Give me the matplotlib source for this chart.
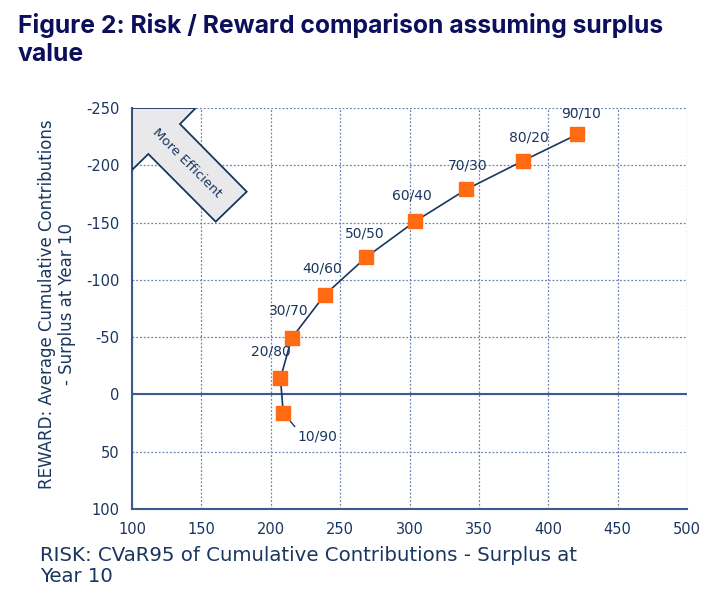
import matplotlib
matplotlib.use('Agg')
from matplotlib import pyplot as plt
from matplotlib.patches import Polygon

plt.rcParams['axes.unicode_minus'] = False

# 数据: 股票/债券配置
mixes = ['10/90', '20/80', '30/70', '40/60', '50/50', '60/40', '70/30', '80/20', '90/10']
risk = [209, 207, 215, 239, 269, 304, 341, 382, 421]
reward = [16, -14, -49, -87, -120, -151, -179, -204, -227]

x_ticks = [100, 150, 200, 250, 300, 350, 400, 450, 500]
y_ticks = [-250, -200, -150, -100, -50, 0, 50, 100]

# 标签偏移(points)
label_offsets = {'10/90': (10, -17), '20/80': (-7, 19), '30/70': (-2, 20), '40/60': (-2, 19),
                 '50/50': (-1, 17), '60/40': (-2, 19), '70/30': (1, 17), '80/20': (4, 17),
                 '90/10': (3, 15)}

navy = '#1a365f'
grid_c = '#6a84ad'
orange = '#ff6a13'

fig = plt.figure(figsize=(7.23, 5.99), dpi=100)
ax = fig.add_axes([132/723, 90/599, 555/723, 401/599])

ax.set_xlim(100, 500)
ax.set_ylim(100, -250)
ax.set_xticks(x_ticks)
ax.set_yticks(y_ticks)
ax.tick_params(length=0, labelsize=10.5, labelcolor=navy)
ax.tick_params(axis='y', pad=9)
ax.tick_params(axis='x', pad=9)

ax.grid(True, linestyle=(0, (1.5, 1.5)), color=grid_c, linewidth=0.9)
ax.set_axisbelow(True)
for s in ['top', 'right']:
    ax.spines[s].set_visible(False)
for s in ['left', 'bottom']:
    ax.spines[s].set_color('#3c5a8c')
    ax.spines[s].set_linewidth(1.5)
ax.axhline(0, color='#3c5a8c', linewidth=1.5, zorder=2)

# 箭头 "More Efficient"
arrow_pts = [(0, 1), (0.1148, 1), (0.0865, 0.960), (0.2067, 0.7913),
             (0.1508, 0.7165), (0.0294, 0.8853), (0, 0.8454)]
ax.add_patch(Polygon(arrow_pts, closed=True, transform=ax.transAxes,
                     facecolor='#e9e9eb', edgecolor=navy, linewidth=1.3, zorder=3))
ax.text(0.099, 0.863, 'More Efficient', transform=ax.transAxes, rotation=-45,
        ha='center', va='center', fontsize=9.5, color=navy, zorder=4)

ax.plot(risk, reward, color=navy, linewidth=1.2, zorder=4)
ax.plot(risk, reward, linestyle='none', marker='s', markersize=10.5,
        color=orange, markeredgecolor=orange, zorder=5)

for m, x, y in zip(mixes, risk, reward):
    dx, dy = label_offsets[m]
    if m == '10/90':
        ax.annotate(m, (x, y), xytext=(dx, dy), textcoords='offset points',
                    ha='left', va='center', fontsize=10, color=navy,
                    arrowprops=dict(arrowstyle='-', color=navy, lw=1,
                                    relpos=(0, 1), shrinkA=0, shrinkB=0), zorder=4)
    else:
        ax.annotate(m, (x, y), xytext=(dx, dy), textcoords='offset points',
                    ha='center', va='center', fontsize=10, color=navy, zorder=6)

fig.text(18/723, 1 - 13/599, 'Figure 2: Risk / Reward comparison assuming surplus\nvalue',
         ha='left', va='top', fontsize=17.8, fontweight='bold', color='#0b0f5c',
         family='Inter', linespacing=1.3)

fig.text(57/723, 1 - 304/599, 'REWARD: Average Cumulative Contributions\n- Surplus at Year 10',
         rotation=90, ha='center', va='center', multialignment='center',
         fontsize=12, color=navy)
fig.text(40/723, 1 - 546/599, 'RISK: CVaR95 of Cumulative Contributions - Surplus at\nYear 10',
         ha='left', va='top', fontsize=14.2, color=navy, linespacing=1.1)

plt.savefig('out.png', dpi=100)
